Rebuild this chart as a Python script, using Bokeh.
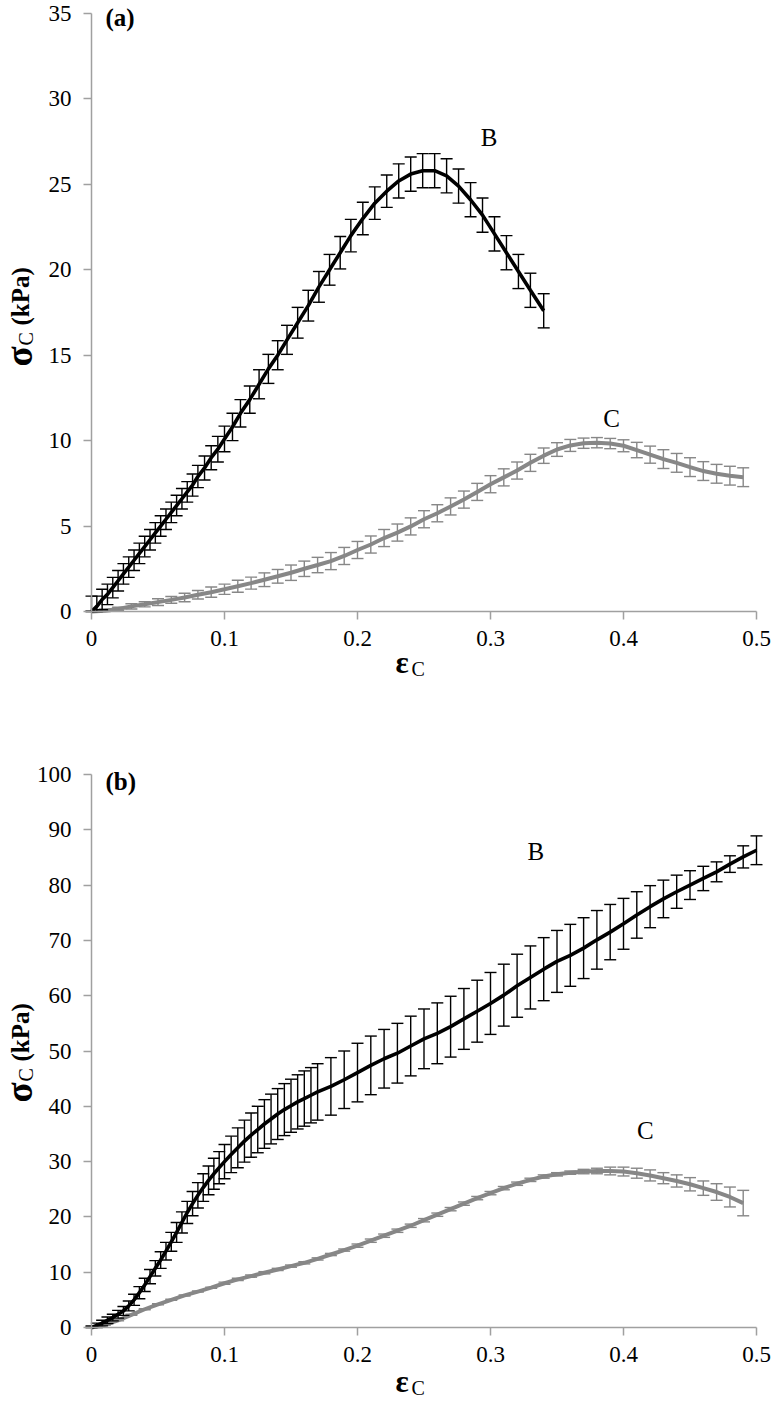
import math
from bokeh.plotting import figure
from bokeh.models import Range1d, Label, NumeralTickFormatter, ColumnDataSource
from bokeh.layouts import column
from bokeh.embed import file_html
from bokeh.resources import INLINE

# ---------------- data ----------------
x_ticks = [0, 0.1, 0.2, 0.3, 0.4, 0.5]
y_ticks_a = [0, 5, 10, 15, 20, 25, 30, 35]
y_ticks_b = [0, 10, 20, 30, 40, 50, 60, 70, 80, 90, 100]

# panel (a), series B (black)
a_B_x = [0, 0.004, 0.008, 0.012, 0.016, 0.020, 0.024, 0.028, 0.032, 0.036,
         0.040, 0.044, 0.048, 0.052, 0.056, 0.060, 0.064, 0.068, 0.072, 0.076,
         0.080, 0.085, 0.090, 0.095, 0.100, 0.106, 0.112, 0.119, 0.126, 0.133,
         0.140, 0.147, 0.155, 0.163, 0.171, 0.179, 0.187, 0.195, 0.204, 0.213,
         0.222, 0.231, 0.240, 0.249, 0.258, 0.267, 0.276, 0.285, 0.294, 0.303,
         0.312, 0.321, 0.330, 0.340]
a_B_y = [0.0, 0.3, 0.7, 1.0, 1.4, 1.8, 2.2, 2.6, 3.0, 3.4,
         3.8, 4.2, 4.6, 5.0, 5.4, 5.8, 6.2, 6.6, 7.0, 7.4,
         7.9, 8.4, 9.0, 9.5, 10.1, 10.8, 11.6, 12.4, 13.3, 14.2,
         15.0, 15.9, 16.9, 17.9, 19.0, 20.0, 21.0, 22.0, 23.0, 23.9,
         24.6, 25.2, 25.6, 25.8, 25.8, 25.5, 24.9, 24.1, 23.2, 22.1,
         21.0, 19.9, 18.8, 17.6]
a_B_err = [0.9, 0.6, 0.6, 0.6, 0.6, 0.6, 0.6, 0.6, 0.6, 0.6,
           0.6, 0.6, 0.6, 0.6, 0.6, 0.6, 0.6, 0.6, 0.6, 0.65,
           0.65, 0.7, 0.7, 0.75, 0.75, 0.8, 0.8, 0.8, 0.85, 0.85,
           0.85, 0.85, 0.9, 0.9, 0.9, 0.9, 0.95, 0.95, 0.95, 0.95,
           0.95, 1.0, 1.0, 1.0, 1.0, 1.0, 1.0, 1.0, 1.0, 1.0,
           1.0, 1.0, 1.0, 1.0]

# panel (a), series C (grey)
a_C_x = [0.00, 0.01, 0.02, 0.03, 0.04, 0.05, 0.06, 0.07, 0.08, 0.09,
         0.10, 0.11, 0.12, 0.13, 0.14, 0.15, 0.16, 0.17, 0.18, 0.19,
         0.20, 0.21, 0.22, 0.23, 0.24, 0.25, 0.26, 0.27, 0.28, 0.29,
         0.30, 0.31, 0.32, 0.33, 0.34, 0.35, 0.36, 0.37, 0.38, 0.39,
         0.40, 0.41, 0.42, 0.43, 0.44, 0.45, 0.46, 0.47, 0.48, 0.49]
a_C_y = [0.0, 0.05, 0.15, 0.3, 0.42, 0.55, 0.68, 0.82, 0.98, 1.13,
         1.3, 1.48, 1.66, 1.86, 2.06, 2.27, 2.5, 2.72, 2.95, 3.25,
         3.6, 3.92, 4.3, 4.62, 4.98, 5.4, 5.75, 6.15, 6.55, 7.0,
         7.45, 7.85, 8.25, 8.7, 9.12, 9.48, 9.72, 9.85, 9.88, 9.83,
         9.7, 9.45, 9.18, 8.92, 8.7, 8.45, 8.22, 8.06, 7.95, 7.86]
a_C_err = [0.05, 0.1, 0.1, 0.15, 0.15, 0.2, 0.2, 0.25, 0.25, 0.3,
           0.3, 0.35, 0.35, 0.4, 0.4, 0.45, 0.45, 0.45, 0.5, 0.5,
           0.5, 0.5, 0.5, 0.5, 0.5, 0.5, 0.5, 0.5, 0.5, 0.5,
           0.5, 0.5, 0.5, 0.5, 0.45, 0.4, 0.35, 0.3, 0.3, 0.3,
           0.35, 0.45, 0.5, 0.55, 0.55, 0.55, 0.55, 0.55, 0.55, 0.55]

# panel (b), series B (black)
b_B_x = [0, 0.004, 0.008, 0.012, 0.016, 0.020, 0.024, 0.028, 0.032, 0.036,
         0.040, 0.044, 0.048, 0.052, 0.056, 0.060, 0.064, 0.068, 0.072, 0.076,
         0.080, 0.084, 0.088, 0.092, 0.096, 0.100,
         0.105, 0.110, 0.115, 0.120, 0.125, 0.130, 0.135, 0.140, 0.145, 0.150,
         0.155, 0.160, 0.165, 0.170,
         0.18, 0.19, 0.20, 0.21, 0.22, 0.23, 0.24, 0.25, 0.26, 0.27,
         0.28, 0.29, 0.30, 0.31, 0.32, 0.33, 0.34, 0.35, 0.36, 0.37,
         0.38, 0.39, 0.40, 0.41, 0.42, 0.43, 0.44, 0.45, 0.46, 0.47,
         0.48, 0.49, 0.50]
b_B_y = [0.0, 0.4, 0.8, 1.3, 1.8, 2.4, 3.0, 3.9, 5.0, 6.3,
         7.7, 9.2, 10.7, 12.2, 13.8, 15.5, 17.2, 19.0, 20.8, 22.4,
         23.9, 25.3, 26.6, 27.8, 28.9, 30.0,
         31.3, 32.5, 33.7, 34.8, 35.8, 36.8, 37.7, 38.6, 39.4, 40.1,
         40.8, 41.4, 42.0, 42.6,
         43.6, 44.8, 46.1, 47.4, 48.6, 49.6, 50.9, 52.2, 53.2, 54.4,
         55.8, 57.2, 58.6, 60.1, 61.8, 63.3, 64.8, 66.2, 67.3, 68.6,
         70.1, 71.5, 73.0, 74.6, 76.1, 77.5, 78.8, 80.0, 81.2, 82.4,
         83.8, 85.1, 86.3]
b_B_err = [0.3, 0.4, 0.5, 0.6, 0.6, 0.7, 0.8, 0.9, 1.0, 1.1,
           1.2, 1.3, 1.4, 1.5, 1.6, 1.7, 1.8, 1.9, 2.0, 2.2,
           2.3, 2.5, 2.6, 2.8, 2.9, 3.1,
           3.3, 3.6, 3.8, 4.0, 4.2, 4.4, 4.5, 4.6, 4.7, 4.8,
           4.9, 5.0, 5.0, 5.1,
           5.2, 5.2, 5.3, 5.3, 5.3, 5.4, 5.4, 5.4, 5.5, 5.5,
           5.5, 5.6, 5.6, 5.6, 5.7, 5.7, 5.7, 5.6, 5.6, 5.5,
           5.3, 5.0, 4.6, 4.2, 3.8, 3.4, 3.0, 2.6, 2.2, 1.8,
           1.5, 2.0, 2.6]

# panel (b), series C (grey)
b_C_x = [0.00, 0.01, 0.02, 0.03, 0.04, 0.05, 0.06, 0.07, 0.08, 0.09,
         0.10, 0.11, 0.12, 0.13, 0.14, 0.15, 0.16, 0.17, 0.18, 0.19,
         0.20, 0.21, 0.22, 0.23, 0.24, 0.25, 0.26, 0.27, 0.28, 0.29,
         0.30, 0.31, 0.32, 0.33, 0.34, 0.35, 0.36, 0.37, 0.38, 0.39,
         0.40, 0.41, 0.42, 0.43, 0.44, 0.45, 0.46, 0.47, 0.48, 0.49]
b_C_y = [0.0, 0.5, 1.3, 2.3, 3.3, 4.2, 5.0, 5.8, 6.5, 7.2,
         8.0, 8.7, 9.3, 9.9, 10.5, 11.1, 11.7, 12.4, 13.2, 14.0,
         14.8, 15.7, 16.6, 17.5, 18.4, 19.4, 20.4, 21.4, 22.4, 23.4,
         24.3, 25.2, 26.0, 26.7, 27.3, 27.7, 28.0, 28.2, 28.3, 28.3,
         28.2, 27.9, 27.5, 27.0, 26.5, 25.9, 25.2, 24.5, 23.6, 22.5]
b_C_err = [0.1, 0.1, 0.1, 0.1, 0.1, 0.1, 0.1, 0.1, 0.1, 0.1,
           0.2, 0.2, 0.2, 0.2, 0.2, 0.2, 0.2, 0.2, 0.2, 0.2,
           0.3, 0.3, 0.3, 0.3, 0.3, 0.3, 0.3, 0.3, 0.3, 0.3,
           0.3, 0.3, 0.3, 0.3, 0.3, 0.3, 0.3, 0.4, 0.5, 0.7,
           0.8, 0.9, 1.0, 1.0, 1.1, 1.2, 1.3, 1.5, 1.8, 2.3]

series_labels = ["B", "C"]
panel_labels = ["(a)", "(b)"]

# ---------------- styling / geometry ----------------
FONT = "Liberation Serif"
BLACK = "#000000"
GREY = "#878787"
AXIS = "#a0a0a0"
ROT = math.pi / 2
W = 774
X0_PX, X05_PX = 91, 756          # page x of strain 0 and 0.5
PX_PER_X = (X05_PX - X0_PX) / 0.5
X_RANGE = (-X0_PX / PX_PER_X, 0.5 + (W - X05_PX) / PX_PER_X)


def txt(p, x, y, text, size, bold=False, angle=0.0, units="data",
        align="left", baseline="alphabetic"):
    p.add_layout(Label(x=x, y=y, x_units=units, y_units=units, text=text,
                       text_font=FONT, text_font_size=f"{size}px",
                       text_font_style="bold" if bold else "normal",
                       angle=angle, text_align=align, text_baseline=baseline,
                       text_color="black"))


def draw_series(p, xs, ys, errs, color, lw):
    src = ColumnDataSource(dict(
        x=xs, y=ys,
        lo=[max(y - e, 0.0) for y, e in zip(ys, errs)],   # axis starts at 0
        hi=[y + e for y, e in zip(ys, errs)],
    ))
    p.line("x", "y", source=src, line_color=color, line_width=lw)
    p.segment(x0="x", y0="lo", x1="x", y1="hi", source=src,
              line_color=color, line_width=1.4)
    p.scatter("x", "hi", source=src, marker="dash", size=12,
              line_color=color, line_width=1.4)
    p.scatter("x", "lo", source=src, marker="dash", size=12,
              line_color=color, line_width=1.4)


def make_fig(height, top_page, ymax_px, y0_px, ymax, yticks):
    """height: figure height; top_page: page y of figure top;
    ymax_px / y0_px: page y of the top tick and of zero."""
    ppu = (y0_px - ymax_px) / ymax
    y_hi = ymax + (ymax_px - top_page) / ppu
    y_lo = -(top_page + height - y0_px) / ppu
    p = figure(width=W, height=height,
               x_range=Range1d(*X_RANGE), y_range=Range1d(y_lo, y_hi),
               output_backend="svg", toolbar_location=None,
               min_border_left=0, min_border_right=0,
               min_border_top=0, min_border_bottom=0)
    p.outline_line_color = None
    p.xgrid.visible = False
    p.ygrid.visible = False
    p.background_fill_color = "white"
    p.border_fill_color = "white"
    p.xaxis.ticker = x_ticks
    p.yaxis.ticker = yticks
    p.xaxis.fixed_location = 0
    p.yaxis.fixed_location = 0
    p.xaxis.bounds = (0, 0.5)
    p.yaxis.bounds = (0, ymax)
    p.xaxis.formatter = NumeralTickFormatter(format="0.[0]")
    for ax in (p.xaxis[0], p.yaxis[0]):
        ax.axis_line_color = AXIS
        ax.axis_line_width = 1.5
        ax.major_tick_line_color = AXIS
        ax.major_tick_line_width = 1.5
        ax.major_tick_out = 8
        ax.major_tick_in = 0
        ax.minor_tick_line_color = None
        ax.major_label_text_font = FONT
        ax.major_label_text_font_size = "23px"
        ax.major_label_text_color = "black"
    p.xaxis.major_label_standoff = 11
    p.yaxis.major_label_standoff = 12
    return p


def titles(p, sigma_start, eps_base):
    txt(p, 19, sigma_start, "σ", 37, bold=True, angle=ROT,
        units="screen", baseline="middle")
    txt(p, 25, sigma_start + 21, "C", 20, angle=ROT,
        units="screen", baseline="middle")
    txt(p, 20, sigma_start + 41, "(kPa)", 25, bold=True, angle=ROT,
        units="screen", baseline="middle")
    txt(p, 395, eps_base, "ε", 31, bold=True, units="screen")
    txt(p, 411, eps_base - 6, "C", 20, units="screen")


# ---------------- panel (a) ----------------
HA = 700
pa = make_fig(HA, 0, 13, 611, 35, y_ticks_a)
draw_series(pa, a_C_x, a_C_y, a_C_err, GREY, 4)
draw_series(pa, a_B_x, a_B_y, a_B_err, BLACK, 3.6)
txt(pa, 0.0105, 34.75, panel_labels[0], 25, bold=True, baseline="middle")
txt(pa, 0.299, 27.74, series_labels[0], 25, align="center", baseline="middle")
txt(pa, 0.391, 11.30, series_labels[1], 25, align="center", baseline="middle")
titles(pa, HA - 366, HA - 662)

# ---------------- panel (b) ----------------
HB = 710
pb = make_fig(HB, HA, 774, 1327, 100, y_ticks_b)
draw_series(pb, b_C_x, b_C_y, b_C_err, GREY, 4)
draw_series(pb, b_B_x, b_B_y, b_B_err, BLACK, 3.6)
txt(pb, 0.0105, 98.7, panel_labels[1], 25, bold=True, baseline="middle")
txt(pb, 0.334, 86.1, series_labels[0], 25, align="center", baseline="middle")
txt(pb, 0.4165, 35.6, series_labels[1], 25, align="center", baseline="middle")
titles(pb, (HA + HB) - 1102, (HA + HB) - 1381)

layout = column(pa, pb)
open("out.html", "w").write(file_html(layout, INLINE))
